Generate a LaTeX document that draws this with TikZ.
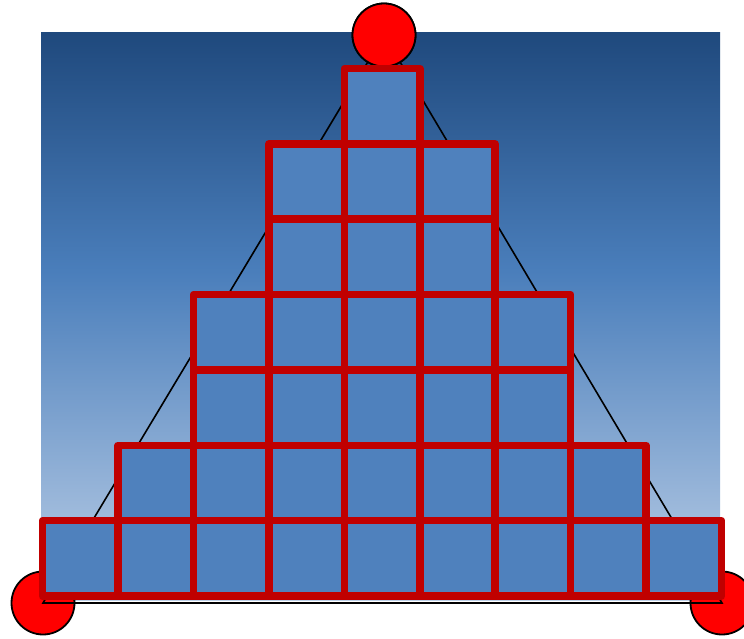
\documentclass[tikz,border=0pt]{standalone}
\definecolor{bgtop}{HTML}{1F497D}
\definecolor{bgmid}{HTML}{4A7EBB}
\definecolor{bgbot}{HTML}{BCCFE7}
\definecolor{cellfill}{HTML}{4F81BD}
\definecolor{cellline}{HTML}{C00000}
\pgfdeclareverticalshading{bgshade}{100bp}{color(0bp)=(bgbot); color(25bp)=(bgbot); color(54bp)=(bgmid); color(75bp)=(bgtop); color(100bp)=(bgtop)}
\tikzset{
  ball/.style={circle, draw=black, line width=1.8pt, fill=red, minimum size=63pt, inner sep=0pt},
  tri/.style={draw=black, line width=1.6pt},
  cellbox/.style={draw=cellline, fill=cellfill, line width=7.5pt, line join=round}
}
\begin{document}
\begin{tikzpicture}[x=1pt,y=1pt]
\useasboundingbox (0,0) rectangle (744,638);
\shade[shading=bgshade] (41,38) rectangle (720,605);
\node[ball] (top) at (384,603) {};
\node[ball] (bl) at (43,35) {};
\node[ball] (br) at (722,35) {};
\draw[tri] (top.center) -- (bl.center) -- (br.center) -- cycle;
\node[ball] at (top) {};
\def\cw{75.45}
\def\ch{75.35}
\foreach \r/\a/\b in {0/0/8, 1/1/7, 2/2/6, 3/2/6, 4/3/5, 5/3/5, 6/4/4}{
  \foreach \c in {\a,...,\b}{
    \draw[cellbox] ({42.5+\c*\cw},{42+\r*\ch}) rectangle ++(\cw,\ch);
  }
}
\end{tikzpicture}
\end{document}
